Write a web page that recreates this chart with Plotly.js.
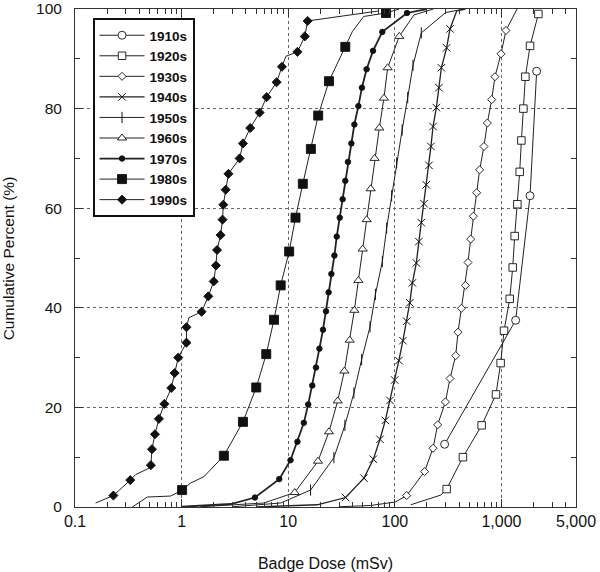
<!DOCTYPE html>
<html><head><meta charset="utf-8">
<script src="https://cdn.plot.ly/plotly-3.0.1.min.js"></script>
<style>html,body{margin:0;padding:0;background:#fff}</style>
</head><body>
<div id="chart" style="width:600px;height:572px"></div>
<script>
// ---- data: marker points (x = badge dose mSv, y = cumulative percent) ----
const decades = ['1910s','1920s','1930s','1940s','1950s','1960s','1970s','1980s','1990s'];

const m1910x = [293, 1358, 1853, 2138];
const m1910y = [12.6, 37.5, 62.5, 87.5];
const e1910x = [];
const e1910y = [];

const m1920x = [306, 435, 652, 888, 982, 1057, 1195, 1275, 1330, 1409, 1482, 1537, 1605, 1676, 1853, 2218];
const m1920y = [3.6, 10.0, 16.4, 22.6, 28.9, 35.4, 41.8, 48.1, 54.4, 60.8, 67.3, 73.6, 80.0, 86.4, 92.6, 99.0];
const e1920x = [141, 270];
const e1920y = [0.45, 2.4];

const m1930x = [129, 190, 228, 252, 298, 329, 372, 391, 421, 459, 485, 514, 545, 585, 624, 685, 737, 809, 869, 990, 1102];
const m1930y = [2.3, 7.1, 11.8, 16.5, 21.1, 25.8, 30.4, 35.1, 39.9, 44.5, 49.1, 53.8, 58.4, 63.1, 67.7, 72.4, 77.1, 81.8, 86.4, 91.0, 95.7];
const e1930x = [30, 59, 101, 1400];
const e1930y = [0.05, 0.3, 1.0, 100];

const m1940x = [34.5, 51.3, 62.8, 72.5, 81.4, 90, 99.6, 109, 119, 129, 138, 146, 159, 168, 177, 188, 197, 209, 218, 228, 245, 259, 273, 306, 329];
const m1940y = [1.9, 5.8, 9.6, 13.6, 17.4, 21.4, 25.5, 29.4, 33.4, 37.3, 41.0, 45.0, 49.0, 53.3, 57.1, 60.9, 64.7, 68.6, 72.4, 76.4, 80.2, 84.2, 88.2, 92.2, 96.0];
const e1940x = [5, 18.7, 380, 460];
const e1940y = [0.0, 0.45, 99.6, 100];

const m1950x = [16.2, 26.8, 34.0, 41.3, 48.8, 58.5, 65.7, 76.3, 83.8, 93.3, 104, 117, 132, 148, 177];
const m1950y = [3.4, 9.9, 16.4, 22.9, 29.6, 36.2, 42.7, 49.3, 56.0, 62.5, 69.1, 75.7, 82.2, 88.7, 95.2];
const e1950x = [3, 8.5, 300, 450];
const e1950y = [0.05, 0.8, 99.3, 100];

const m1960x = [11.5, 19.0, 24.1, 29.1, 33.6, 37.7, 41.7, 45.5, 49.9, 54.4, 59.3, 64.6, 71.5, 79.0, 85.6, 110];
const m1960y = [2.9, 9.2, 15.1, 21.3, 27.3, 33.5, 39.5, 45.5, 51.8, 57.7, 63.9, 70.0, 76.1, 82.1, 88.2, 94.5];
const e1960x = [1.5, 5.9, 151, 230];
const e1960y = [0.05, 0.8, 98.8, 100];

const m1970x = [4.87, 8.24, 10.5, 12.2, 14.0, 15.4, 16.8, 18.2, 19.6, 21.2, 22.6, 23.9, 25.4, 27.1, 28.5, 30.4, 32.4, 34.3, 36.3, 39.1, 41.7, 45.5, 49.1, 54.3, 62.4, 76.3, 130];
const m1970y = [1.9, 5.6, 9.4, 13.1, 16.9, 20.6, 24.4, 28.0, 31.8, 35.6, 39.3, 43.1, 46.8, 50.5, 54.3, 58.1, 61.8, 65.5, 69.3, 73.0, 76.8, 80.5, 84.2, 87.9, 91.6, 95.4, 99.2];
const e1970x = [1.0, 2.9, 200];
const e1970y = [0.05, 0.6, 100];

const m1980x = [1.01, 2.49, 3.76, 5.01, 6.22, 7.35, 8.49, 10.2, 11.7, 13.7, 16.3, 19.1, 24.1, 34.3, 82.6];
const m1980y = [3.4, 10.3, 17.1, 24.0, 30.7, 37.6, 44.5, 51.3, 58.1, 64.9, 71.9, 78.6, 85.5, 92.4, 99.2];
const e1980x = [0.345, 0.40, 0.476, 0.79, 1.21, 1.62, 40, 51, 110];
const e1980y = [0.0, 1.0, 2.0, 2.2, 4.8, 6.1, 95.5, 98.5, 100];

const m1990x = [0.229, 0.330, 0.515, 0.527, 0.562, 0.612, 0.689, 0.80, 0.86, 0.93, 1.11, 1.11, 1.54, 1.78, 2.0, 2.10, 2.15, 2.32, 2.42, 2.46, 2.59, 2.75, 3.50, 3.76, 4.4, 5.39, 6.27, 7.78, 8.73, 12.2, 14.3, 15.2];
const m1990y = [2.3, 5.4, 8.4, 11.6, 14.6, 17.7, 20.7, 23.9, 26.9, 30.0, 33.0, 36.1, 39.2, 42.3, 45.3, 48.5, 51.6, 54.6, 57.7, 60.7, 63.7, 66.9, 70.0, 73.0, 76.1, 79.2, 82.3, 85.3, 88.4, 91.4, 94.5, 97.6];
const e1990x = [0.156, 0.37, 0.494, 1.17, 9.5, 70];
const e1990y = [0.8, 6.5, 7.8, 38.0, 90.5, 99.6];

const xTickVals = [0.1, 1, 10, 100, 1000, 5000];
const xTickText = ['0.1', '1', '10', '100', '1,000', '5,000'];
const yTickVals = [0, 20, 40, 60, 80, 100];

// ---- styles ----
const styles = [
  {sym:'circle',      size:8,   fill:'white', lw:1.0},
  {sym:'square',      size:7.5, fill:'white', lw:1.0},
  {sym:'diamond',     size:6.2, fill:'white', lw:1.0},
  {sym:'x-thin-open', size:7.5, fill:'#111',  lw:1.3},
  {sym:'line-ns-open',size:8,   fill:'#111',  lw:1.0},
  {sym:'triangle-up', size:8,   fill:'white', lw:1.0},
  {sym:'circle',      size:5.5, fill:'#111',  lw:1.8},
  {sym:'square',      size:9,   fill:'#111',  lw:1.0},
  {sym:'diamond',     size:7,   fill:'#111',  lw:1.0}
];
const seriesM = [[m1910x,m1910y],[m1920x,m1920y],[m1930x,m1930y],[m1940x,m1940y],[m1950x,m1950y],[m1960x,m1960y],[m1970x,m1970y],[m1980x,m1980y],[m1990x,m1990y]];
const seriesE = [[e1910x,e1910y],[e1920x,e1920y],[e1930x,e1930y],[e1940x,e1940y],[e1950x,e1950y],[e1960x,e1960y],[e1970x,e1970y],[e1980x,e1980y],[e1990x,e1990y]];

function mergeLine(m, e) {
  const pts = [];
  for (let i = 0; i < m[0].length; i++) pts.push([m[0][i], m[1][i]]);
  for (let i = 0; i < e[0].length; i++) pts.push([e[0][i], e[1][i]]);
  pts.sort((a, b) => a[1] - b[1] || a[0] - b[0]);
  return [pts.map(p => p[0]), pts.map(p => p[1])];
}

const lineTraces = [], markerTraces = [], legendTraces = [];
decades.forEach((name, i) => {
  const st = styles[i];
  const isLineSym = st.sym.indexOf('open') >= 0;
  const markerObj = {
    symbol: st.sym, size: st.size,
    color: isLineSym ? '#111' : st.fill,
    line: {color: '#111', width: isLineSym ? 1 : 0.9}
  };
  const ln = mergeLine(seriesM[i], seriesE[i]);
  lineTraces.push({x: ln[0], y: ln[1], mode: 'lines', type: 'scatter',
    line: {color: '#222', width: st.lw}, showlegend: false, hoverinfo: 'skip', legendgroup: name});
  markerTraces.push({x: seriesM[i][0], y: seriesM[i][1], mode: 'markers', type: 'scatter',
    marker: markerObj, showlegend: false, cliponaxis: false, legendgroup: name, name: name});
  legendTraces.push({x: [null], y: [null], mode: 'lines+markers', type: 'scatter', name: name,
    line: {color: '#222', width: st.lw}, marker: markerObj, legendgroup: name});
});

const minorVals = [];
[0.1, 1, 10, 100, 1000].forEach(d => { for (let k = 2; k <= 9; k++) { const v = d * k; if (v < 5000) minorVals.push(v); } });

const fontFam = '"Liberation Sans", Arial, Helvetica, sans-serif';
const layout = {
  width: 600, height: 572,
  margin: {l: 74.5, r: 24, t: 8.5, b: 64.7},
  paper_bgcolor: '#fff', plot_bgcolor: '#fff',
  font: {family: fontFam, color: '#111', size: 16},
  showlegend: true,
  legend: {
    x: 0.035, y: 0.982, xanchor: 'left', yanchor: 'top',
    bgcolor: '#fff', bordercolor: '#111', borderwidth: 2,
    font: {family: fontFam, size: 13.5, weight: 'bold', color: '#111'},
    traceorder: 'normal', itemwidth: 45
  },
  xaxis: {
    type: 'log', range: [-1, Math.log10(5000)],
    tickmode: 'array', tickvals: xTickVals, ticktext: xTickText,
    ticks: 'inside', ticklen: 8, tickcolor: '#333', tickwidth: 1,
    showline: true, linecolor: '#333', linewidth: 1, mirror: 'ticks',
    showgrid: true, gridcolor: '#666', gridwidth: 1, griddash: '3px,3px',
    zeroline: false, tickfont: {size: 16}, ticklabeloverflow: 'allow',
    minor: {tickmode: 'array', tickvals: minorVals, ticks: 'inside', ticklen: 5, tickcolor: '#333', showgrid: false},
    title: {text: 'Badge Dose (mSv)', font: {size: 16}, standoff: 28}
  },
  yaxis: {
    range: [0, 100],
    tickmode: 'array', tickvals: yTickVals,
    ticks: 'inside', ticklen: 8, tickcolor: '#333',
    showline: true, linecolor: '#333', linewidth: 1, mirror: 'ticks',
    showgrid: true, gridcolor: '#666', gridwidth: 1, griddash: '3px,3px',
    zeroline: false, tickfont: {size: 15.5}, ticklabeloverflow: 'allow',
    ticklabelstandoff: 9,
    minor: {dtick: 10, tick0: 0, ticks: 'inside', ticklen: 5, tickcolor: '#333', showgrid: false}
  },
  annotations: [{
    text: 'Cumulative Percent (%)', xref: 'paper', yref: 'paper',
    x: -0.133, y: 0.5, xanchor: 'center', yanchor: 'middle',
    textangle: -90, showarrow: false, font: {size: 15.5, family: fontFam, color: '#111'}
  }]
};

Plotly.newPlot('chart', lineTraces.concat(markerTraces, legendTraces), layout, {displayModeBar: false, staticPlot: true});
</script>
</body></html>
